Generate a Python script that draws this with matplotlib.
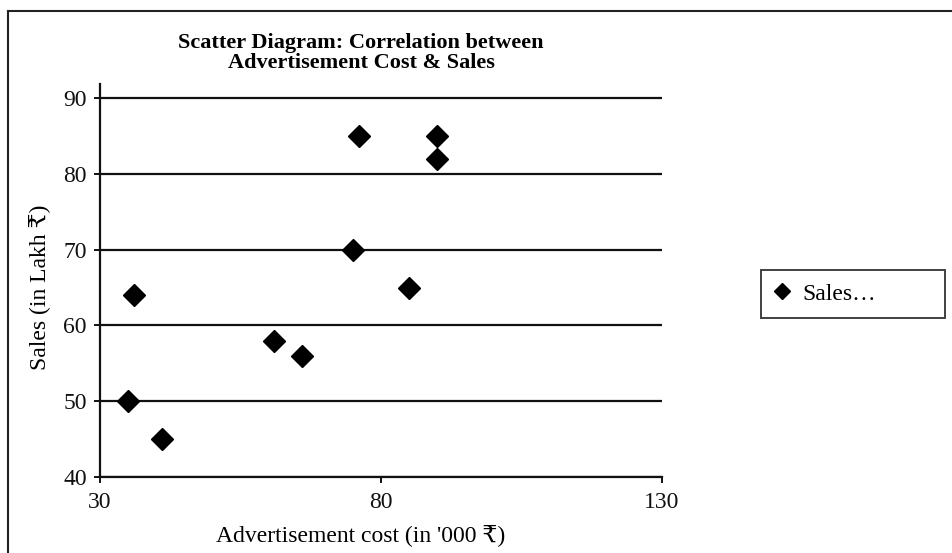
import matplotlib
matplotlib.use('Agg')
import matplotlib.pyplot as plt
from matplotlib.lines import Line2D

plt.rcParams['font.family'] = ['Liberation Serif', 'DejaVu Serif', 'DejaVu Sans']

# advertisement cost ('000 Rs) and sales (Lakh Rs)
adv_cost = [36, 35, 41, 61, 66, 75, 76, 85, 90, 90]
sales = [64, 50, 45, 58, 56, 70, 85, 65, 85, 82]
x_ticks = [30, 80, 130]
y_ticks = [40, 50, 60, 70, 80, 90]

W, H = 952, 553
fig = plt.figure(figsize=(W / 100, H / 100), dpi=100)
ax = fig.add_axes([100 / W, 1 - 477 / H, 562 / W, (477 - 84) / H])

ax.plot(adv_cost, sales, linestyle='none', marker='D', markersize=11.5,
        color='black', label='Sales…', zorder=3)

ax.set_xlim(30, 130)
ax.set_ylim(40, 40 + 50 * (477 - 84) / (477 - 98))
ax.set_xticks(x_ticks)
ax.set_yticks(y_ticks)
for y in y_ticks:
    ax.axhline(y, color='#111111', lw=1.6, zorder=1)

for s in ['top', 'right']:
    ax.spines[s].set_visible(False)
for s in ['left', 'bottom']:
    ax.spines[s].set_linewidth(1.6)
    ax.spines[s].set_color('#111111')
ax.tick_params(axis='both', labelsize=17, width=1.4, length=4.5, colors='#111111')
ax.tick_params(axis='y', pad=5)
ax.tick_params(axis='x', pad=6)

fig.text(361 / W, 1 - 53 / H,
         'Scatter Diagram: Correlation between\nAdvertisement Cost & Sales',
         ha='center', va='center', fontsize=16, fontweight='bold', linespacing=0.95)
fig.text(361 / W, 1 - 535 / H, "Advertisement cost (in '000 ₹)",
         ha='center', va='center', fontsize=17)
fig.text(39 / W, 1 - 287 / H, 'Sales (in Lakh ₹)', rotation=90,
         ha='center', va='center', fontsize=17)

leg = ax.legend(loc='upper left', mode='expand',
                bbox_to_anchor=(761 / W, 1 - 324 / H, 184 / W, 54 / H),
                bbox_transform=fig.transFigure, borderaxespad=0,
                fancybox=False, edgecolor='#111111', fontsize=17,
                handlelength=0.7, handletextpad=0.5, markerscale=0.75,
                borderpad=0.55)
leg.get_frame().set_linewidth(1.4)

# chart area border (only left and top edges visible)
fig.add_artist(Line2D([8 / W, 8 / W], [0, 1 - 11 / H], transform=fig.transFigure,
                      color='#222222', lw=1.5))
fig.add_artist(Line2D([8 / W, 1], [1 - 11 / H, 1 - 11 / H], transform=fig.transFigure,
                      color='#222222', lw=1.5))

fig.savefig('out.png', dpi=100)
